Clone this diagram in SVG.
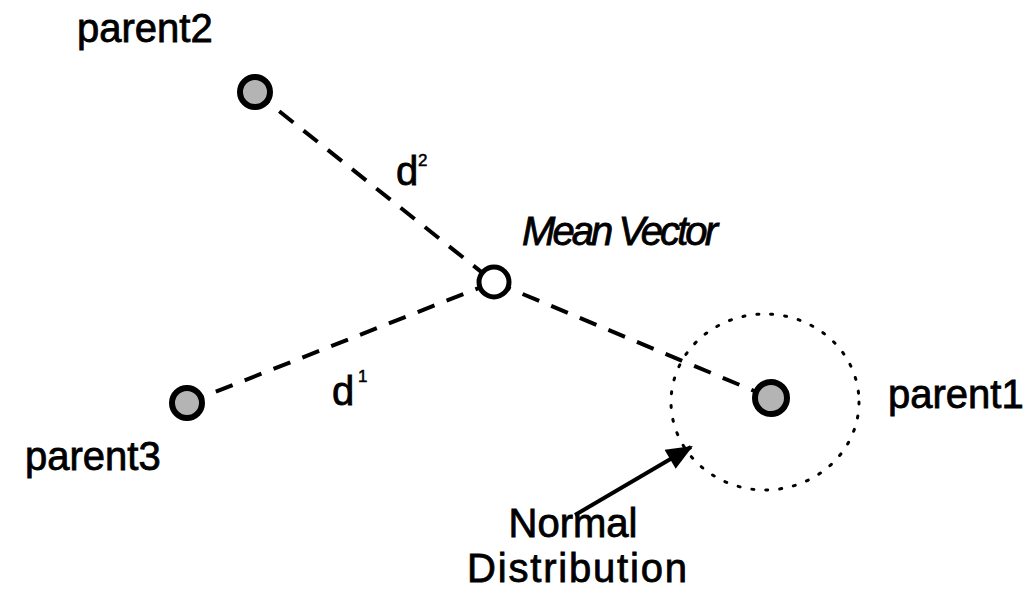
<svg xmlns="http://www.w3.org/2000/svg" width="1035" height="595" viewBox="0 0 1035 595">
<style>
.lbl{font-family:"Liberation Sans",Arial,sans-serif;font-size:40px;fill:#000;stroke:#000;stroke-width:0.8}
.sup{font-family:"Liberation Sans",Arial,sans-serif;font-size:17px;fill:#000;stroke:#000;stroke-width:0.5}
.node{fill:#b4b4b4;stroke:#000;stroke-width:6}
.dash{fill:none;stroke:#000;stroke-width:4;stroke-dasharray:18 13}
</style>
<defs>
<marker id="ah" viewBox="0 0 12 10" refX="11" refY="5" markerWidth="7" markerHeight="5.5" orient="auto" markerUnits="strokeWidth">
<path d="M0,0 L12,5 L0,10 Z" fill="#000"/>
</marker>
</defs>
<rect width="1035" height="595" fill="#fff"/>
<g id="connectors">
<line class="dash" x1="255" y1="92" x2="494" y2="282"/>
<line class="dash" x1="494" y1="282" x2="771" y2="398"/>
<line class="dash" x1="187" y1="403" x2="494" y2="282"/>
<line x1="575" y1="515" x2="691" y2="447" stroke="#000" stroke-width="4" marker-end="url(#ah)"/>
</g>
<g id="normal-distribution">
<ellipse cx="765" cy="402" rx="94" ry="88" fill="none" stroke="#000" stroke-width="3" stroke-dasharray="2 12" stroke-linecap="round"/>
<text class="lbl" x="573" y="537" text-anchor="middle">Normal</text>
<text class="lbl" x="577" y="582" text-anchor="middle" textLength="220">Distribution</text>
</g>
<g id="parent2">
<circle class="node" cx="255" cy="92" r="15"/>
<text class="lbl" x="77" y="42">parent2</text>
</g>
<g id="parent3">
<circle class="node" cx="187" cy="403" r="15"/>
<text class="lbl" x="25" y="470">parent3</text>
</g>
<g id="parent1">
<circle class="node" cx="771" cy="398" r="16"/>
<text class="lbl" x="888" y="408">parent1</text>
</g>
<g id="mean-vector">
<circle cx="494" cy="282" r="15" fill="#fff" stroke="#000" stroke-width="5"/>
<text class="lbl" x="522" y="245" font-style="italic" font-size="37" textLength="196">Mean Vector</text>
</g>
<g id="d2">
<text class="lbl" x="396" y="185" font-size="30">d</text>
<text class="sup" x="418" y="166">2</text>
</g>
<g id="d1">
<text class="lbl" x="332" y="405" font-size="30">d</text>
<text class="sup" x="358" y="382">1</text>
</g>
</svg>
